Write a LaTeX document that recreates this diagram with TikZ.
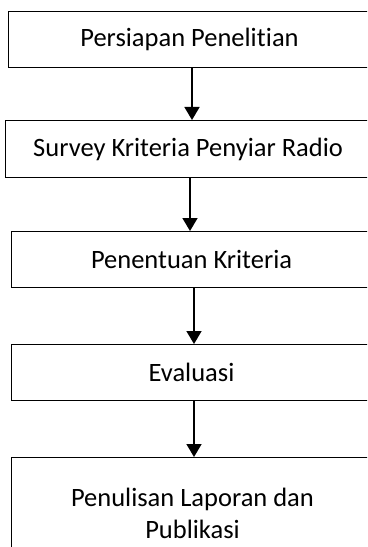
\documentclass[tikz,border=0pt]{standalone}
\usepackage{fontspec}
\setmainfont[Ligatures={NoCommon,NoContextual},Contextuals=NoAlternate]{Carlito}
\usetikzlibrary{arrows.meta}
\begin{document}
\begin{tikzpicture}[x=1bp,y=-1bp,
  box/.style={draw=black, line width=1bp, anchor=north west, inner sep=0pt,
    font=\fontsize{26.5bp}{32.5bp}\selectfont, align=center},
  arr/.style={line width=1.6bp, -{Triangle[width=15bp,length=13bp]}}]
\useasboundingbox (0,0) rectangle (367,547);
\clip (0,0) rectangle (367,547);
\node[box, minimum width=362bp, minimum height=56bp] (b1) at (8,11) {Persiapan Penelit\kern0.3bp ian};
\node[box, minimum width=365bp, minimum height=57bp] (b2) at (5,120) {Survey Kriteria Penyiar Radio};
\node[box, minimum width=360bp, minimum height=56bp] (b3) at (11,231) {Penentuan Kriteria};
\node[box, minimum width=360bp, minimum height=56bp] (b4) at (11,344) {Evaluasi};
\node[box, minimum width=362bp, minimum height=112bp] (b5) at (11,457) {Penulisan Laporan dan\\Publikasi};
\coordinate (a1) at (192,0);
\coordinate (a2) at (190,0);
\coordinate (a3) at (194,0);
\coordinate (a4) at (194,0);
\draw[arr] (a1 |- b1.south) -- (a1 |- b2.north);
\draw[arr] (a2 |- b2.south) -- (a2 |- b3.north);
\draw[arr] (a3 |- b3.south) -- (a3 |- b4.north);
\draw[arr] (a4 |- b4.south) -- (a4 |- b5.north);
\end{tikzpicture}
\end{document}
